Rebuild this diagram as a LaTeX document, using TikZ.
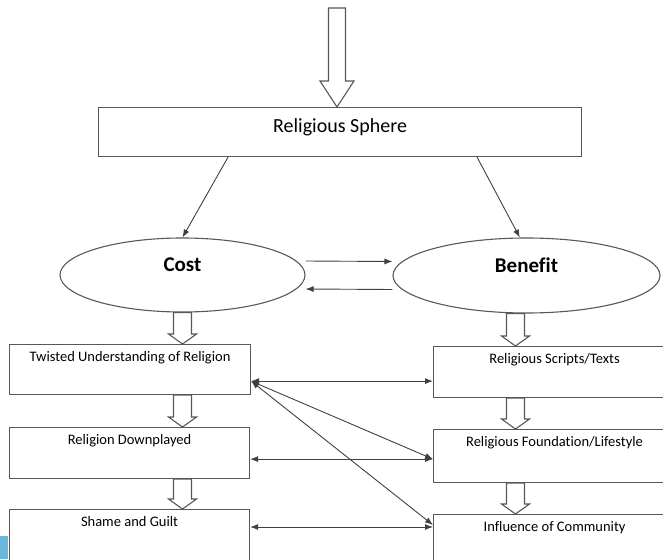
\documentclass[tikz,border=0pt]{standalone}
\usepackage{fontspec}
\setmainfont{Carlito}[Ligatures=CommonOff]
\usetikzlibrary{arrows.meta,calc,shapes.geometric}
\definecolor{linegray}{RGB}{88,88,88}
\definecolor{sidebar}{RGB}{107,182,218}
\newcommand{\hollowarrow}[3][9/14/10]{%
  \foreach \sw/\hw/\hl in {#1}{%
    \draw[hollow] ($(#2)+(-\sw,0)$) -- ($(#2|-#3)+(-\sw,-\hl)$) -- ($(#2|-#3)+(-\hw,-\hl)$) -- (#2|-#3)
      -- ($(#2|-#3)+(\hw,-\hl)$) -- ($(#2|-#3)+(\sw,-\hl)$) -- ($(#2)+(\sw,0)$) -- cycle;}}

\begin{document}
\begin{tikzpicture}[x=1pt,y=-1pt,
  box/.style={draw=linegray,line width=1.1pt,rectangle,inner sep=0pt,anchor=north west,
    font=\fontsize{14.5}{17}\selectfont,text height=17pt},
  oval/.style={draw=linegray,line width=1.1pt,ellipse,inner sep=0pt,
    font=\fontsize{21}{24}\selectfont\bfseries,text height=14pt,text depth=21pt},
  hollow/.style={draw=linegray,line width=1.1pt,fill=white},
  link/.style={<->,>={Latex[length=8pt,width=6pt]},line width=0.9pt,draw=black!75},
  flow/.style={link,->}]
\useasboundingbox (0,0) rectangle (663,559);
\fill[sidebar] (0,536) rectangle (8,559);
\node[box,minimum width=483pt,text height=25pt,text depth=24pt,font=\fontsize{20}{24}\selectfont] (sphere) at (98,107) {Religious Sphere};
\node[oval,minimum width=245pt,minimum height=74pt] (cost) at (182.5,275) {Cost};
\node[oval,minimum width=267pt,minimum height=75pt] (benefit) at (526.5,275.5) {Benefit};
\node[box,minimum width=241pt,text depth=33pt] (twisted) at (9,344) {Twisted Understanding of Religion};
\node[box,minimum width=240pt,text depth=34pt] (downplay) at (9,427) {Religion Downplayed};
\node[box,minimum width=240pt,text depth=49pt] (shame) at (9,509) {Shame and Guilt};
\node[box,minimum width=242pt,text depth=34pt] (scripts) at (433,346) {Religious Scripts/Texts};
\node[box,minimum width=242pt,text depth=36pt] (foundation) at (433,429) {Religious Foundation/Lifestyle};
\node[box,minimum width=242pt,text depth=44pt] (influence) at (433,514) {Influence of Community};
\coordinate (src) at (337,8);
\coordinate (l1) at (cost.south |- twisted.south);
\coordinate (l2) at (cost.south |- downplay.south);
\coordinate (r0) at ($(benefit.south)+(-11,0)$);
\coordinate (r1) at (r0 |- scripts.south);
\coordinate (r2) at (r0 |- foundation.south);
\hollowarrow[8.5/17/26]{src}{sphere.north}
\hollowarrow{cost.south}{twisted.north}
\hollowarrow{l1}{downplay.north}
\hollowarrow{l2}{shame.north}
\hollowarrow{r0}{scripts.north}
\hollowarrow{r1}{foundation.north}
\hollowarrow{r2}{influence.north}
\draw[flow] ($(sphere.south)+(-112,0)$) -- (cost.north);
\draw[flow] ($(sphere.south)+(137,0)$) -- (benefit.100);
\draw[flow] ($(cost.east)+(0,-14)$) -- ($(benefit.west)+(0,-14)$);
\draw[flow] ($(benefit.west)+(0,14)$) -- ($(cost.east)+(0,14)$);
\coordinate (t1) at ($(twisted.south east)+(0,-14)$);
\coordinate (d1) at ($(downplay.south east)+(0,-20)$);
\coordinate (s1) at ($(shame.north east)+(0,18)$);
\draw[link] (t1) -- (t1 -| scripts.west);
\draw[link] (t1) -- (d1 -| foundation.west);
\draw[link] (t1) -- ($(s1 -| influence.west)+(0,-2)$);
\draw[link] (d1) -- (d1 -| foundation.west);
\draw[link] (s1) -- (s1 -| influence.west);
\end{tikzpicture}
\end{document}
